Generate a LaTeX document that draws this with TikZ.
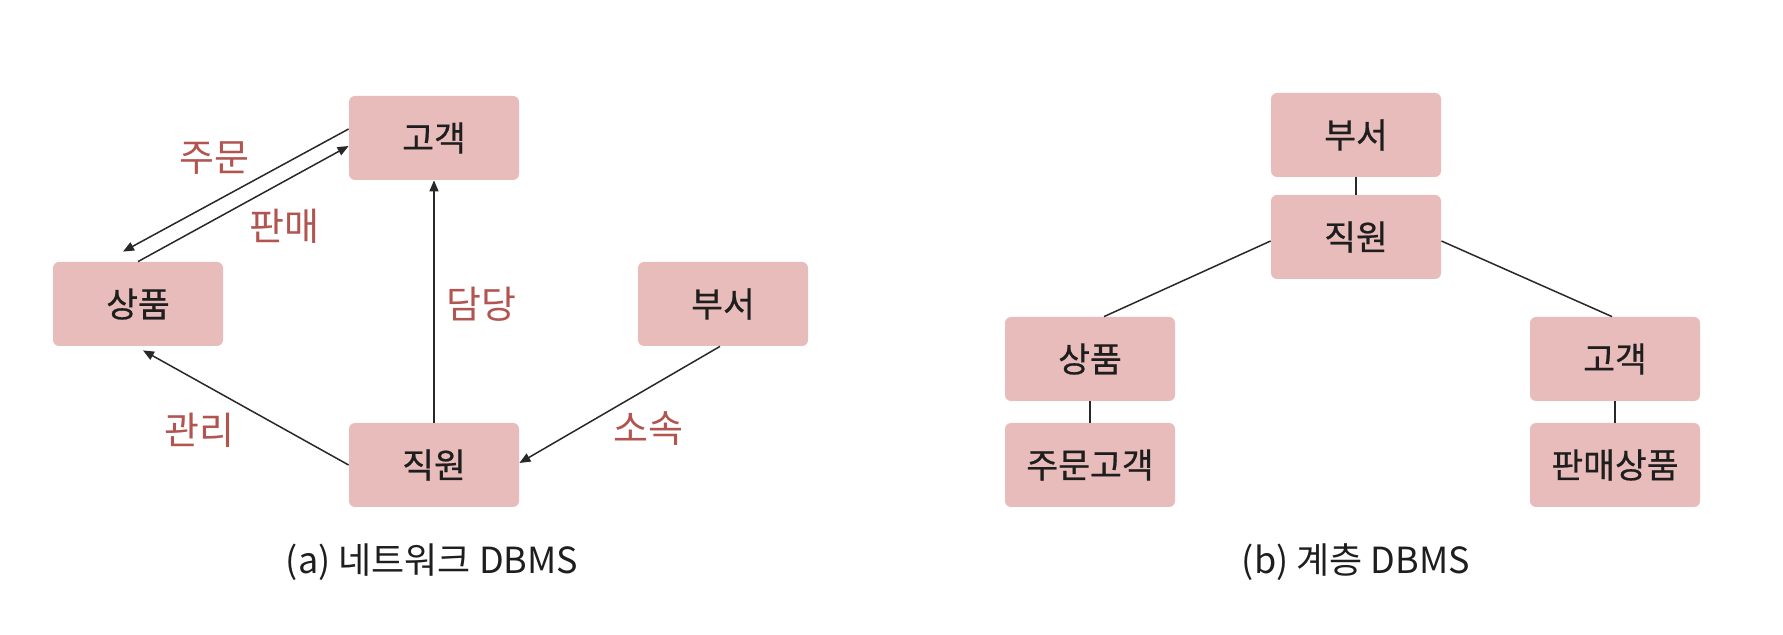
\documentclass[tikz,border=0pt]{standalone}
\usepackage{fontspec}
\setmainfont{Noto Sans CJK KR}
\newfontfamily\medfont[FakeBold=0.6]{Noto Sans CJK KR}
\usetikzlibrary{arrows.meta}
\definecolor{boxfill}{RGB}{231,188,187}
\definecolor{labelred}{RGB}{178,85,80}
\definecolor{linegray}{RGB}{40,40,40}
\definecolor{textdark}{RGB}{30,30,30}
\begin{document}
\begin{tikzpicture}[x=0.5pt,y=-0.5pt,
  entity/.style={rectangle, rounded corners=3pt, fill=boxfill, minimum width=85pt, minimum height=42pt, inner sep=0pt, font=\medfont\fontsize{17.3}{20}\selectfont, text=textdark},
  rel/.style={text=labelred, inner sep=0pt, font=\fontsize{19}{22}\selectfont},
  conn/.style={draw=linegray, line width=0.75pt},
  arr/.style={conn, -{Triangle[length=5.5pt,width=4.5pt]}},
  capt/.style={inner sep=0pt, font=\fontsize{18}{21}\selectfont, text=textdark}]
\useasboundingbox (0,0) rectangle (1783,635);
% (a) network
\node[entity] (nG) at (434,138) {고객};
\node[entity] (nS) at (138,304) {상품};
\node[entity] (nB) at (723,304) {부서};
\node[entity] (nJ) at (434,465) {직원};
\draw[arr] ([yshift=4.5pt]nG.west) -- ([xshift=-7.5pt,yshift=5pt]nS.north);
\draw[arr] (nS.north) -- ([yshift=-4pt]nG.west);
\draw[arr] (nJ.west) -- ([xshift=2.5pt,yshift=-2pt]nS.south);
\draw[arr] (nJ.north) -- (nG.south);
\draw[arr] ([xshift=-1.5pt]nB.south) -- ([yshift=1pt]nJ.east);
\node[rel] (lOrder) at (214,158) {주문};
\node[rel] (lSell) at (284,226) {판매};
\node[rel] (lCharge) at (481,304) {담당};
\node[rel] (lManage) at (199,430) {관리};
\node[rel] (lBelong) at (648,429) {소속};
\node[capt] (capA) at (432,562) {(a) 네트워크 DBMS};
% (b) hierarchical
\node[entity] (hB) at (1356,135) {부서};
\node[entity] (hJ) at (1356,237) {직원};
\node[entity] (hS) at (1090,359) {상품};
\node[entity] (hSJ) at (1090,465) {주문고객};
\node[entity] (hG) at (1615,359) {고객};
\node[entity] (hGP) at (1615,465) {판매상품};
\draw[conn] (hB) -- (hJ);
\draw[conn] ([yshift=-2pt]hJ.west) -- ([xshift=7pt]hS.north);
\draw[conn] ([yshift=-2pt]hJ.east) -- ([xshift=-1.5pt]hG.north);
\draw[conn] (hS) -- (hSJ);
\draw[conn] (hG) -- (hGP);
\node[capt] (capB) at (1356,562) {(b) 계층 DBMS};
\end{tikzpicture}
\end{document}
